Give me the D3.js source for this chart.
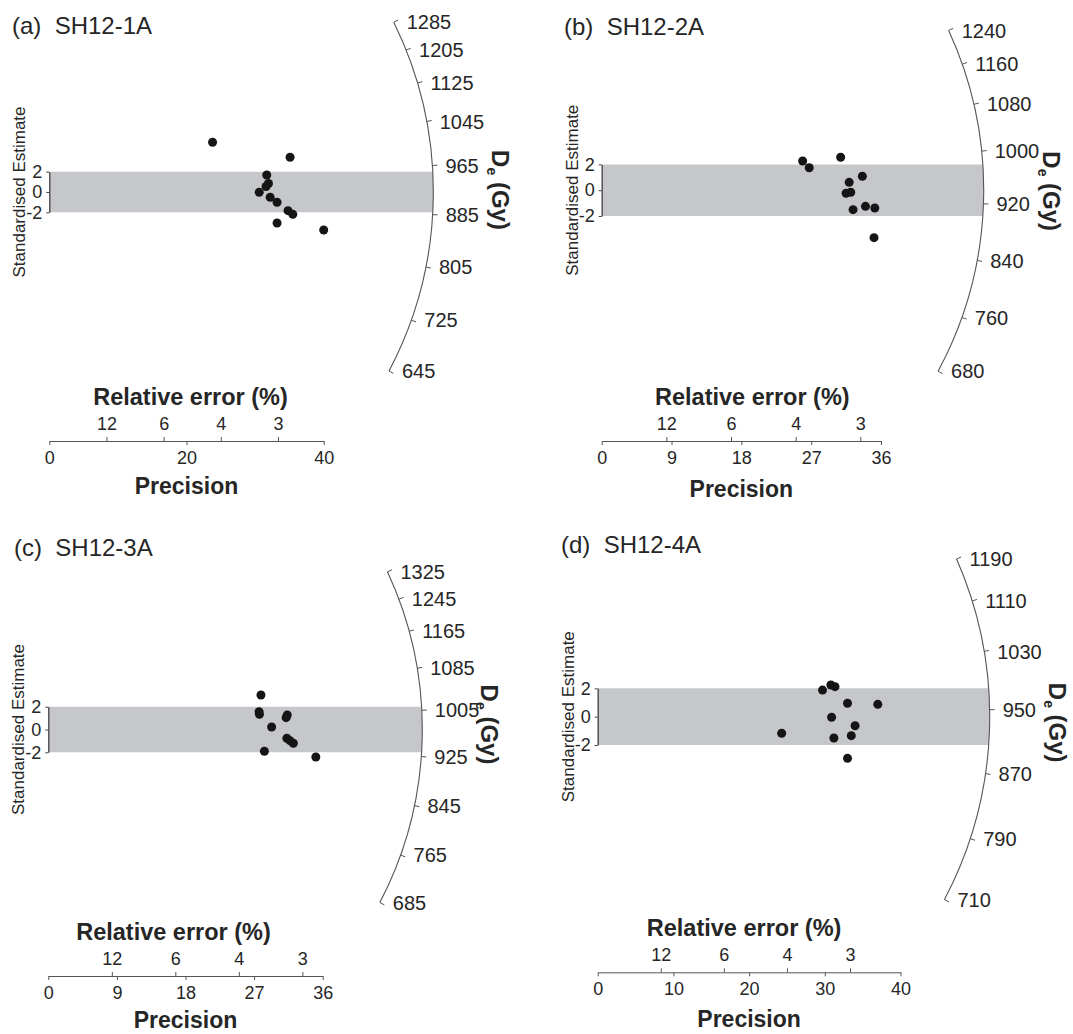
<!DOCTYPE html>
<html>
<head>
<meta charset="utf-8">
<script src="https://cdn.jsdelivr.net/npm/d3@7"></script>
<style>
  body { margin: 0; background: #fff; }
  svg { font-family: "Liberation Sans", Arial, sans-serif; }
  text { fill: #262626; }
</style>
</head>
<body>
<svg width="1073" height="1034"></svg>
<script>
// radial plots, 4 samples
const titles = ["(a)  SH12-1A", "(b)  SH12-2A", "(c)  SH12-3A", "(d)  SH12-4A"];
const centralDe = [921, 940, 971, 941];

const deTicks = [
    [1285, 1205, 1125, 1045, 965, 885, 805, 725, 645],
    [1240, 1160, 1080, 1000, 920, 840, 760, 680],
    [1325, 1245, 1165, 1085, 1005, 925, 845, 765, 685],
    [1190, 1110, 1030, 950, 870, 790, 710]
];
const precTicks = [[0, 20, 40], [0, 9, 18, 27, 36], [0, 9, 18, 27, 36], [0, 10, 20, 30, 40]];
const relErrTicks = [12, 6, 4, 3];
const zTicks = [2, 0, -2];

// precision (x) and standardised estimate (z) of each aliquot
const precA = [23.8, 35.1, 31.7, 31.6, 31.95, 30.6, 32.2, 33.2, 34.8, 35.5, 33.2, 40.0];
const zA    = [4.9, 3.42, 1.67, 0.54, 0.84, -0.03, -0.52, -1.01, -1.84, -2.2, -3.05, -3.74];
const precB = [25.9, 26.75, 30.8, 33.6, 31.9, 31.5, 32.1, 32.4, 34.0, 35.2, 35.1];
const zB    = [2.26, 1.74, 2.55, 1.08, 0.61, -0.24, -0.16, -1.51, -1.25, -1.38, -3.68];
const precC = [27.9, 27.65, 27.7, 29.3, 31.2, 31.35, 31.3, 31.7, 32.15, 28.35, 35.1];
const zC    = [3.03, 1.56, 1.33, 0.22, 1.04, 1.27, -0.77, -0.98, -1.21, -1.91, -2.41];
const precD = [29.7, 30.8, 31.35, 33.0, 37.0, 30.9, 34.0, 24.3, 31.2, 33.5, 33.0];
const zD    = [1.88, 2.24, 2.12, 0.95, 0.87, -0.04, -0.64, -1.17, -1.5, -1.34, -2.94];

const precs = [precA, precB, precC, precD];
const zs = [zA, zB, zC, zD];

// layout of each panel (pixels)
const layout = [
    { x0: 49.3, x1: 323.7, pMax: 40, zy: 192, zu: 10.15, axisY: 441, R: 384, titleX: 12, titleY: 34, relDx: 4, precDy: 53, deDy: -2 },
    { x0: 601.7, x1: 881, pMax: 36, zy: 190.2, zu: 12.9, axisY: 441, R: 382, titleX: 564, titleY: 35, relDx: 11, precDy: 56, deDy: 1 },
    { x0: 48.3, x1: 322.7, pMax: 36, zy: 729.5, zu: 11.4, axisY: 976, R: 374, titleX: 14, titleY: 556, relDx: -12, precDy: 52, deDy: -5 },
    { x0: 597.7, x1: 900.5, pMax: 40, zy: 716.7, zu: 14.17, axisY: 972.3, R: 392, titleX: 561, titleY: 553, relDx: -5, precDy: 55, deDy: 6 }
];

var svg = d3.select("svg");

layout.forEach(function (L, i) {
    var g = svg.append("g");

    var x = d3.scaleLinear().domain([0, L.pMax]).range([L.x0, L.x1]);
    var y = d3.scaleLinear().domain([-2, 2]).range([L.zy + 2 * L.zu, L.zy - 2 * L.zu]);

    var ox = x(0), oy = y(0);
    var pu = x(1) - x(0), zu = y(0) - y(1);
    var R = L.R;

    function ang(d) { return Math.atan(Math.log(d / centralDe[i]) * zu / pu); }
    function onArc(a, r) { return [ox + r * Math.cos(a), oy - r * Math.sin(a)]; }

    // grey +-2 band, closed by the arc
    var a2 = Math.asin((oy - y(2)) / R);
    var p1 = onArc(a2, R), p2 = onArc(-a2, R);
    g.append("path")
        .attr("d", "M" + ox + "," + y(2) + "L" + p1[0] + "," + p1[1] +
            "A" + R + "," + R + " 0 0 1 " + p2[0] + "," + p2[1] +
            "L" + ox + "," + y(-2) + "Z")
        .attr("fill", "#c6c7ca");

    // title
    g.append("text")
        .attr("x", L.titleX)
        .attr("y", L.titleY)
        .attr("font-size", "24px")
        .attr("xml:space", "preserve")
        .text(titles[i]);

    // De arc
    var ticks = deTicks[i];
    var aMax = ang(d3.max(ticks)), aMin = ang(d3.min(ticks));
    var p = d3.path();
    p.arc(ox, oy, R, -aMax, -aMin);
    g.append("path")
        .attr("d", p.toString())
        .attr("fill", "none")
        .attr("stroke", "#555")
        .attr("stroke-width", 1.1);

    g.selectAll(".detick")
        .data(ticks)
        .enter().append("line")
        .attr("class", "detick")
        .attr("x1", function (d) { return onArc(ang(d), R)[0]; })
        .attr("y1", function (d) { return onArc(ang(d), R)[1]; })
        .attr("x2", function (d) { return onArc(ang(d), R + 5)[0]; })
        .attr("y2", function (d) { return onArc(ang(d), R + 5)[1]; })
        .attr("stroke", "#555");

    g.selectAll(".delabel")
        .data(ticks)
        .enter().append("text")
        .attr("class", "delabel")
        .attr("x", function (d) { return onArc(ang(d), R)[0] + 13; })
        .attr("y", function (d) { return onArc(ang(d), R)[1]; })
        .attr("dy", "0.36em")
        .attr("font-size", "20px")
        .text(function (d) { return d; });

    var de = g.append("text")
        .attr("transform", "translate(" + (ox + R + 59) + "," + (oy + L.deDy) + ") rotate(90)")
        .attr("text-anchor", "middle")
        .attr("font-size", "24px")
        .attr("font-weight", "bold");
    de.append("tspan").text("D");
    de.append("tspan").attr("font-size", "14px").attr("dy", "5").text("e");
    de.append("tspan").attr("dy", "-5").text(" (Gy)");

    // standardised estimate axis
    g.append("g")
        .attr("transform", "translate(" + ox + ",0)")
        .attr("color", "#444")
        .call(d3.axisLeft(y).tickValues(zTicks).tickSize(3).tickSizeOuter(0).tickPadding(4)
            .tickFormat(function (d) { return String(d); }))
        .call(function (a) { a.selectAll("text").attr("font-size", "18px").attr("fill", "#262626"); })
        .call(function (a) { a.select(".domain").attr("stroke-width", 1.3); });

    g.append("text")
        .attr("transform", "translate(" + (ox - 24) + "," + oy + ") rotate(-90)")
        .attr("text-anchor", "middle")
        .attr("font-size", "17px")
        .attr("fill", "#333")
        .text("Standardised Estimate");

    // precision axis
    g.append("g")
        .attr("transform", "translate(0," + L.axisY + ")")
        .attr("color", "#555")
        .call(d3.axisBottom(x).tickValues(precTicks[i]).tickSize(4).tickSizeOuter(0).tickPadding(6))
        .call(function (a) { a.selectAll("text").attr("font-size", "18px").attr("fill", "#262626"); });

    // relative error ticks on top of the same line
    var rel = g.append("g")
        .attr("transform", "translate(0," + L.axisY + ")")
        .attr("color", "#555")
        .call(d3.axisTop(x).tickValues(relErrTicks.map(function (r) { return 100 / r; }))
            .tickFormat(function (d, j) { return relErrTicks[j]; })
            .tickSize(4).tickSizeOuter(0).tickPadding(7))
        .call(function (a) { a.selectAll("text").attr("font-size", "18px").attr("fill", "#262626"); });
    rel.select(".domain").remove();

    var mid = (L.x0 + L.x1) / 2;
    g.append("text")
        .attr("x", mid + L.relDx)
        .attr("y", L.axisY - 36)
        .attr("text-anchor", "middle")
        .attr("font-size", "23.5px")
        .attr("font-weight", "bold")
        .text("Relative error (%)");

    g.append("text")
        .attr("x", mid)
        .attr("y", L.axisY + L.precDy)
        .attr("text-anchor", "middle")
        .attr("font-size", "23px")
        .attr("font-weight", "bold")
        .text("Precision");

    // points
    g.selectAll(".pt")
        .data(precs[i])
        .enter().append("circle")
        .attr("class", "pt")
        .attr("cx", function (d) { return x(d); })
        .attr("cy", function (d, j) { return y(zs[i][j]); })
        .attr("r", 4.5)
        .attr("fill", "#151515");
});
</script>
</body>
</html>
